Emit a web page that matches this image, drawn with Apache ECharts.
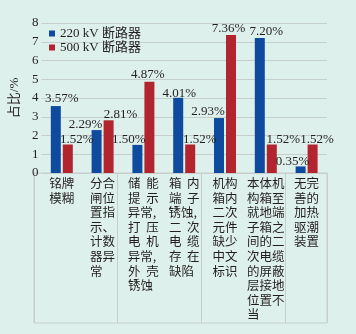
<!DOCTYPE html>
<html>
<head>
<meta charset="utf-8">
<script src="https://cdn.jsdelivr.net/npm/echarts@6/dist/echarts.min.js"></script>
<style>
  html, body { margin: 0; padding: 0; background: #def0eb; }
  #chart { width: 356px; height: 334px; }
</style>
</head>
<body>
<div id="chart"></div>
<script>
/* data */
const categories = [
  '铭牌\n模糊',
  '分合\n闸位\n置指\n示、\n计数\n器异\n常　',
  '储  能\n提  示\n异常, \n打  压\n电  机\n异常, \n外  壳\n锈蚀  ',
  '箱  内\n端  子\n锈蚀, \n二  次\n电  缆\n存  在\n缺陷  ',
  '机构\n箱内\n二次\n元件\n缺少\n中文\n标识',
  '本体机\n构箱至\n就地端\n子箱之\n间的二\n次电缆\n的屏蔽\n层接地\n位置不\n当　　',
  '无完\n善的\n加热\n驱潮\n装置'
]
const kv220 = [3.57, 2.29, 1.50, 4.01, 2.93, 7.20, 0.35]
const kv500 = [1.52, 2.81, 4.87, 1.52, 7.36, 1.52, 1.52]
const seriesNames = ['220 kV 断路器', '500 kV 断路器']
const yMax = 8

/* label nudges, the source places them by hand */
const shift220 = [[6, -0.5], [-11, 1.5], [-8.5, 1.5], [1, 2], [-11, 0.5], [6.5, 0.5], [-8, 2]]
const shift500 = [[9, 2], [12, 1], [-1.5, -0.5], [9.5, 2], [-2.5, 0], [11.5, 2], [4.5, 2]]

const serif = "'Liberation Serif', 'Noto Sans CJK SC', serif"
const cjk = "'Noto Sans CJK SC', sans-serif"
const ink = '#231f20'
const rule = '#c6cfcb'

const pct = p => p.value.toFixed(2) + '%'

const option = {
  backgroundColor: '#def0eb',
  animation: false,
  legend: {
    orient: 'vertical',
    left: 49,
    top: 27,
    padding: 0,
    itemGap: 1,
    itemWidth: 6,
    itemHeight: 6,
    icon: 'rect',
    textStyle: { fontFamily: serif, fontSize: 13, color: ink },
    data: seriesNames
  },
  grid: [
    { left: 34, right: 29, top: 23, bottom: 161 },
    { left: 34, right: 29, top: 173, bottom: 11, show: true, borderColor: rule, borderWidth: 1, backgroundColor: 'transparent' }
  ],
  xAxis: [{
    type: 'category',
    gridIndex: 0,
    data: categories,
    axisLine: { show: false },
    axisTick: { show: false },
    axisLabel: { interval: 0, margin: 3, fontFamily: cjk, fontSize: 12.5, lineHeight: 14.6, color: ink }
  }, {
    type: 'category',
    gridIndex: 1,
    data: categories,
    axisLine: { show: false },
    axisTick: { show: false },
    axisLabel: { show: false },
    splitLine: { show: true, lineStyle: { color: rule, width: 1 } }
  }],
  yAxis: [{
    type: 'value',
    gridIndex: 0,
    min: 0,
    max: yMax,
    interval: 1,
    name: '占比/%',
    nameLocation: 'middle',
    nameGap: 17,
    nameRotate: 90,
    nameTextStyle: { fontFamily: serif, fontSize: 13, color: ink },
    axisLine: { show: false },
    axisTick: { show: false },
    axisLabel: { margin: 3, fontFamily: serif, fontSize: 13, color: ink },
    splitLine: { lineStyle: { color: rule, width: 1 } }
  }, {
    type: 'value',
    gridIndex: 1,
    show: false
  }],
  series: [kv220, kv500].map((vals, s) => ({
    name: seriesNames[s],
    type: 'bar',
    xAxisIndex: 0,
    yAxisIndex: 0,
    barWidth: 10,
    barGap: '20%',
    itemStyle: { color: s ? '#b2252f' : '#0e4b9f' },
    label: {
      show: true,
      position: 'top',
      distance: 0,
      formatter: pct,
      fontFamily: serif,
      fontSize: 13,
      color: ink
    },
    data: vals.map((v, i) => ({
      value: v,
      label: { offset: (s ? shift500 : shift220)[i] }
    }))
  }))
}

const chart = echarts.init(document.getElementById('chart'), null, { renderer: 'canvas' })
chart.setOption(option)
</script>
</body>
</html>
